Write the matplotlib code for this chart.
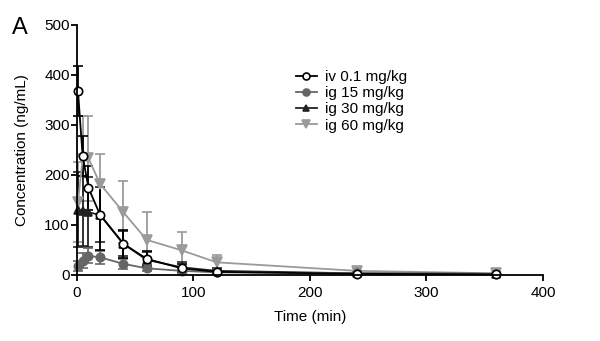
import matplotlib.pyplot as plt
from matplotlib.lines import Line2D

plt.rcParams["font.family"] = ["Liberation Sans", "DejaVu Sans"]

# Sampling times (min)
t = [1, 5, 10, 20, 40, 60, 90, 120, 240, 360]

# Mean concentrations (ng/mL) and SD for each dosing group
iv_01 = [368, 238, 174, 120, 62, 32, 13, 6, 2, 1]
iv_01_sd = [50, 40, 44, 70, 28, 15, 8, 4, 2, 1]

ig_15 = [18, 28, 38, 35, 22, 13, 8, 5, 3, 2]
ig_15_sd = [10, 15, 15, 13, 10, 6, 4, 3, 2, 1]

ig_30 = [130, 128, 125, 120, 62, 30, 15, 8, 3, 2]
ig_30_sd = [75, 70, 70, 55, 25, 15, 10, 5, 2, 1]

ig_60 = [145, 232, 233, 182, 125, 70, 49, 25, 8, 3]
ig_60_sd = [80, 85, 85, 60, 62, 56, 37, 15, 5, 2]

groups = [
    ("iv 0.1 mg/kg", iv_01, iv_01_sd, "#000000", "o", "white", 6),
    ("ig 15 mg/kg", ig_15, ig_15_sd, "#666666", "o", "#666666", 6),
    ("ig 30 mg/kg", ig_30, ig_30_sd, "#222222", "^", "#222222", 6),
    ("ig 60 mg/kg", ig_60, ig_60_sd, "#9a9a9a", "v", "#9a9a9a", 6.5),
]

fig = plt.figure(figsize=(6, 3.41), dpi=100)
ax = fig.add_axes([0.128, 0.194, 0.777, 0.733])

handles = []
for label, y, sd, color, marker, face, ms in groups[::-1]:
    ax.errorbar(t, y, yerr=sd, color=color, marker=marker, markersize=ms,
                markerfacecolor=face, markeredgecolor=color,
                markeredgewidth=1.2, linewidth=1.3, elinewidth=1.3,
                capsize=3.5, capthick=1.3, clip_on=False)
for label, y, sd, color, marker, face, ms in groups:
    handles.append(Line2D([], [], color=color, marker=marker, markersize=ms - 1,
                          markerfacecolor=face, markeredgecolor=color,
                          markeredgewidth=1.2, linewidth=1.3))

ax.set_xlim(0, 400)
ax.set_ylim(0, 500)
ax.set_xticks([0, 100, 200, 300, 400])
ax.set_yticks([0, 100, 200, 300, 400, 500])
ax.spines["top"].set_visible(False)
ax.spines["right"].set_visible(False)
for s in ("left", "bottom"):
    ax.spines[s].set_linewidth(1.3)
ax.tick_params(direction="out", length=4, width=1.3, labelsize=11, pad=1)
ax.tick_params(axis="x", pad=4)
ax.set_xlabel("Time (min)", fontsize=11, labelpad=7.5)
ax.set_ylabel("Concentration (ng/mL)", fontsize=11, labelpad=11)

ax.legend(handles, [g[0] for g in groups], loc="upper left",
          bbox_to_anchor=(0.44, 0.875), frameon=False, fontsize=11,
          handlelength=1.4, handletextpad=0.5, labelspacing=0.15)

fig.text(0.02, 0.9, "A", fontsize=17)

fig.savefig("out.png", dpi=100)
